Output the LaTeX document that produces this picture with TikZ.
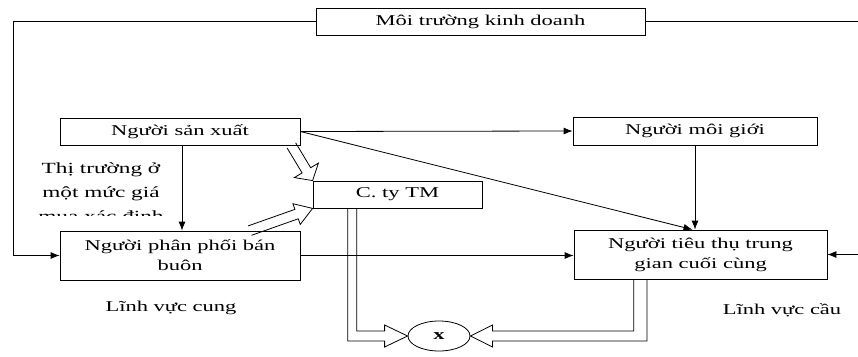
\documentclass[tikz,border=0pt]{standalone}
\usepackage{fontspec}
\setmainfont{Liberation Serif}[FakeStretch=1.5]
\usetikzlibrary{calc,arrows.meta,shapes.geometric}

% outline of a wide hollow arrow: start, tip, half shaft width, half head width, head length
\newcommand{\hollowarrow}[5]{%
  \coordinate (hb) at ($(#2)!#5!(#1)$);
  \draw[line join=miter] ($(#1)!#3!90:(#2)$) -- ($(hb)!#3!90:(#2)$) -- ($(hb)!#4!90:(#2)$)
    -- (#2) -- ($(hb)!#4!-90:(#2)$) -- ($(hb)!#3!-90:(#2)$) -- ($(#1)!#3!-90:(#2)$);
}

\begin{document}
\begin{tikzpicture}[x=1pt,y=-1pt,line width=0.8pt,
  font=\fontsize{15}{20}\selectfont,
  box/.style={draw,inner sep=0pt,align=center},
  arr/.style={-{Latex[length=9pt,width=7pt]}}]
\useasboundingbox (0,0) rectangle (858,356);

% boxes
\node[box,minimum width=329pt,minimum height=27pt] (env) at (480.5,21.5) {Môi trường kinh doanh};
\node[box,minimum width=240pt,minimum height=27pt] (prod) at (180,131.5) {Người sản xuất};
\node[box,minimum width=244pt,minimum height=28pt] (brok) at (695,131) {Người môi giới};
\node[box,minimum width=169pt,minimum height=27pt] (ctm) at (397.5,194.5) {C. ty TM};
\node[box,minimum width=240pt,minimum height=49pt] (dist) at (180,255.5) {Người phân phối bán\\buôn};
\node[box,minimum width=253pt,minimum height=49pt] (cons) at (700.5,254.5) {Người tiêu thụ trung\\gian cuối cùng};
\node[draw,ellipse,inner sep=0pt,minimum width=62pt,minimum height=30pt] (mul) at (439,336) {\textbf{x}};

% free labels; the last line of the market note is cut off
\begin{scope}
  \clip (0,150) rectangle (175,215);
  \node[align=center,font=\fontsize{15.5}{24}\selectfont] (mkt) at (101,193) {Thị trường ở\\một mức giá\\mua xác định};
\end{scope}
\node (sup) at (171,308) {Lĩnh vực cung};
\node (dem) at (782,310) {Lĩnh vực cầu};

% business environment loop
\coordinate (redge) at (858,0);
\coordinate (ledge) at (13,0);
\draw[arr] (env.west) -| (ledge |- dist.west) -- (dist.west);
\draw (env.east) -- (env.east -| redge);
\draw[arr] (cons.east -| redge) -- (cons.east);

% single-line flows
\coordinate (pv) at ($(prod.south)+(2,0)$);
\draw[arr] (prod.east) -- (brok.west);
\draw[arr] (prod.east) -- ($(cons.north)+(-8,0)$);
\draw[arr] (pv) -- (pv |- dist.north);
\draw[arr] (brok.south) -- (brok.south |- cons.north);
\draw[arr] (dist.east) -- (dist.east -| cons.west);

% hollow arrows into the trading company
\coordinate (h1) at ($(prod.south west)!0.9625!(prod.south east)$);
\hollowarrow{h1}{ctm.north west}{5pt}{14pt}{12pt}
\coordinate (h2) at ($(dist.north west)!0.79!(dist.north east)$);
\hollowarrow{h2}{ctm.south west}{5pt}{11pt}{17pt}

% double-line arrows into the ellipse
\coordinate (ca) at ($(ctm.south west)!0.207!(ctm.south east)$);
\coordinate (cb) at ($(ctm.south west)!0.26!(ctm.south east)$);
\coordinate (lb) at ($(mul.west)+(-23,0)$);
\draw[line join=miter] (ca) |- ($(lb)+(0,5)$) -- ($(lb)+(0,11)$) -- (mul.west)
  -- ($(lb)+(0,-11)$) -- ($(lb)+(0,-5)$) -| (cb);
\coordinate (ua) at ($(cons.south west)!0.237!(cons.south east)$);
\coordinate (ub) at ($(cons.south west)!0.289!(cons.south east)$);
\coordinate (rb) at ($(mul.east)+(22,0)$);
\draw[line join=miter] (ua) |- ($(rb)+(0,-5)$) -- ($(rb)+(0,-11)$) -- (mul.east)
  -- ($(rb)+(0,11)$) -- ($(rb)+(0,5)$) -| (ub);
\end{tikzpicture}
\end{document}
